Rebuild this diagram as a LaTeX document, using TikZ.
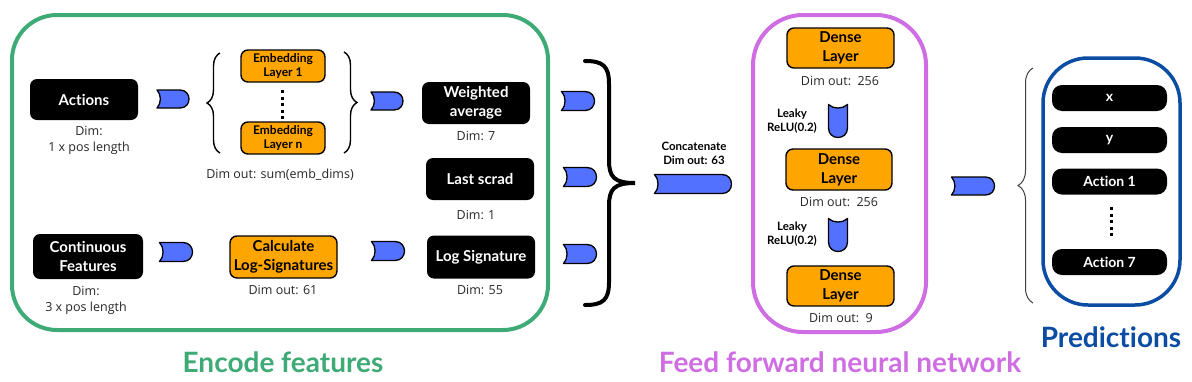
\documentclass[tikz,border=0pt]{standalone}
\usepackage{fontspec}
\setmainfont{Open Sans}
\newfontfamily\lato{Lato}[Ligatures=NoCommon]
\usetikzlibrary{decorations.pathreplacing}
\definecolor{encgreen}{RGB}{62,170,118}
\definecolor{ffpurple}{RGB}{207,109,227}
\definecolor{predblue}{RGB}{10,77,163}
\definecolor{arrowblue}{RGB}{82,113,255}
\definecolor{boxorange}{RGB}{255,165,0}
\tikzset{
  bbox/.style={fill=black, rounded corners=7pt, text=white, align=center, inner sep=0pt,
    font=\lato\bfseries\fontsize{15}{19}\selectfont},
  obox/.style={fill=boxorange, draw=black, line width=1.4pt, rounded corners=7pt, align=center, inner sep=0pt,
    font=\lato\bfseries\fontsize{15}{19}\selectfont},
  outbox/.style={fill=black, rounded corners=10pt, text=white, inner sep=0pt,
    minimum width=115pt, minimum height=26pt, font=\lato\bfseries\fontsize{14}{16}\selectfont},
  dimtxt/.style={align=center, text=black!85, inner sep=0pt, font=\fontsize{12.5}{16}\selectfont},
  smallbold/.style={align=center, inner sep=0pt, font=\lato\bfseries\fontsize{11.5}{14}\selectfont},
  title/.style={inner sep=0pt, font=\lato\bfseries\fontsize{28}{32}\selectfont},
  frame/.style={line width=4pt},
  vdots/.style={line width=3pt, dash pattern=on 3pt off 3.5pt},
  pics/flowarrow/.style 2 args={code={
    \draw[line width=1.3pt, fill=arrowblue, line join=round]
      ({-#1/2},{-#2/2}) -- ({#1/2-#2/2},{-#2/2})
      .. controls ({#1/2-#2/6},{-#2/2}) and ({#1/2},{-#2/4}) .. ({#1/2},0)
      .. controls ({#1/2},{#2/4}) and ({#1/2-#2/6},{#2/2}) .. ({#1/2-#2/2},{#2/2})
      -- ({-#1/2},{#2/2})
      .. controls ({-#1/2+#2/4},{#2/4}) and ({-#1/2+#2/4},{-#2/4}) .. ({-#1/2},{-#2/2}) -- cycle;
  }},
}
\begin{document}
\begin{tikzpicture}[x=1pt,y=-1pt]
\useasboundingbox (0,0) rectangle (1192,381);

% ---------- Encode features ----------
\draw[frame, draw=encgreen, rounded corners=45pt] (12,15) rectangle (548,330);
\node[title, text=encgreen] (enctitle) at (283,362) {Encode features};

\node[bbox, minimum width=108pt, minimum height=41pt] (actions) at (84,99.5) {Actions};
\node[dimtxt] (actdim) at (89,140) {Dim:\\1 x pos length};
\pic at (173,99) {flowarrow={32}{18}};

\draw[line width=1.4pt, decorate, decoration={brace, amplitude=13pt}] (220,153) -- (220,53);
\node[obox, minimum width=84pt, minimum height=32pt, font=\lato\bfseries\fontsize{12}{14}\selectfont] (emb1) at (283,66) {Embedding\\Layer 1};
\node[obox, minimum width=84pt, minimum height=32pt, font=\lato\bfseries\fontsize{12}{14}\selectfont] (embn) at (283,138) {Embedding\\Layer n};
\coordinate (d1) at (282,90);
\coordinate (d2) at (282,119);
\draw[vdots] (d1) -- (d2);
\draw[line width=1.4pt, decorate, decoration={brace, amplitude=13pt}] (344,52) -- (344,153);
\node[dimtxt] (embdim) at (280,175) {Dim out: sum(emb\_dims)};
\pic at (387,101) {flowarrow={32}{18}};

\node[bbox, minimum width=108pt, minimum height=42pt] (wavg) at (476,103) {Weighted\\average};
\node[dimtxt] (wdim) at (476,136) {Dim: 7};
\node[bbox, minimum width=108pt, minimum height=42pt] (last) at (480,179) {Last scrad};
\node[dimtxt] (ldim) at (476,215) {Dim: 1};

\node[bbox, minimum width=110pt, minimum height=45pt] (cont) at (88,256.5) {Continuous\\Features};
\node[dimtxt] (cdim) at (86,300) {Dim:\\3 x pos length};
\pic at (176,252) {flowarrow={33}{19}};
\node[obox, minimum width=107pt, minimum height=42pt] (calc) at (283.5,257) {Calculate\\Log-Signatures};
\node[dimtxt] (calcdim) at (283,290) {Dim out: 61};
\pic at (388,251) {flowarrow={33}{19}};
\node[bbox, minimum width=108pt, minimum height=43pt] (logsig) at (481,257) {Log Signature};
\node[dimtxt] (lsdim) at (480,290) {Dim: 55};

% ---------- concatenation ----------
\pic at (578,101) {flowarrow={33}{19}};
\pic at (580,177) {flowarrow={33}{19}};
\pic at (580,254) {flowarrow={33}{19}};
\draw[line width=4pt, line cap=round]
  (585,61) .. controls (603,61) and (609,66) .. (609,84) -- (609,160)
  .. controls (609,177) and (614,183) .. (635,183)
  .. controls (614,183) and (609,189) .. (609,206) -- (609,282)
  .. controls (609,300) and (603,305) .. (585,305);
\node[smallbold] (concat) at (694,153) {Concatenate\\Dim out: 63};
\pic at (693,184) {flowarrow={77}{19}};

% ---------- Feed forward ----------
\draw[frame, draw=ffpurple, rounded corners=50pt] (753,15) rectangle (926,332);
\node[title, text=ffpurple] (fftitle) at (840,362) {Feed forward neural network};
\node[obox, minimum width=107pt, minimum height=40pt] (dense1) at (840.5,48) {Dense\\Layer};
\node[dimtxt] (dd1) at (840,81) {Dim out:\ \ 256};
\node[smallbold] (relu1) at (792,121) {Leaky\\ReLU(0.2)};
\pic[rotate=-90] at (838,121) {flowarrow={33}{19}};
\node[obox, minimum width=106pt, minimum height=41pt] (dense2) at (839,169.5) {Dense\\Layer};
\node[dimtxt] (dd2) at (839,202) {Dim out:\ \ 256};
\node[smallbold] (relu2) at (792,234) {Leaky\\ReLU(0.2)};
\pic[rotate=-90] at (838,235) {flowarrow={33}{19}};
\node[obox, minimum width=107pt, minimum height=40pt] (dense3) at (840.5,286) {Dense\\Layer};
\node[dimtxt] (dd3) at (841,318) {Dim out:\ \ 9};

\pic at (973,186) {flowarrow={43}{18}};

% ---------- Predictions ----------
\draw[line width=1pt, draw=black!75, decorate, decoration={brace, amplitude=15pt}] (1033,303) -- (1033,68);
\draw[line width=3.5pt, draw=predblue, rounded corners=45pt] (1043,58) rectangle (1180,305);
\node[title, text=predblue] (predtitle) at (1111,337) {Predictions};
\node[outbox] (px) at (1109.5,98) {x};
\node[outbox] (py) at (1109.5,140) {y};
\node[outbox] (pa1) at (1109.5,181.5) {Action 1};
\coordinate (e1) at (1111,207);
\coordinate (e2) at (1111,237);
\draw[vdots] (e1) -- (e2);
\node[outbox] (pa7) at (1109.5,262) {Action 7};
\end{tikzpicture}
\end{document}
